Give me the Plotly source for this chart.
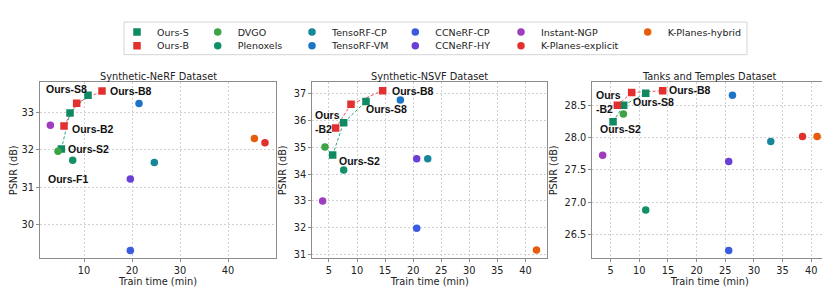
import plotly.graph_objects as go

W, H = 830, 290

# ---------------- data ----------------
methods = ["Ours-S", "Ours-B", "DVGO", "Plenoxels", "TensoRF-CP", "TensoRF-VM",
           "CCNeRF-CP", "CCNeRF-HY", "Instant-NGP", "K-Planes-explicit", "K-Planes-hybrid"]
colors = ["#0e8a62", "#e3302f", "#3ca346", "#11906a", "#16879a", "#1c74c6",
          "#3b5ce0", "#6a3fd6", "#9e3dbd", "#e2302f", "#e85d0c"]

# Synthetic-NeRF
nerf_ours_s_t = [5.28, 7.08, 10.83]
nerf_ours_s_p = [32.02, 32.99, 33.46]
nerf_ours_b_t = [5.83, 8.47, 13.75]
nerf_ours_b_p = [32.64, 33.25, 33.58]
nerf_base = {
    "DVGO": (4.58, 31.96), "Plenoxels": (7.64, 31.72), "TensoRF-CP": (24.65, 31.66),
    "TensoRF-VM": (21.46, 33.24), "CCNeRF-CP": (19.65, 29.30), "CCNeRF-HY": (19.65, 31.22),
    "Instant-NGP": (2.99, 32.66), "K-Planes-explicit": (47.7, 32.19), "K-Planes-hybrid": (45.5, 32.30),
}
# Synthetic-NSVF
nsvf_ours_s_t = [5.66, 7.62, 11.6]
nsvf_ours_s_p = [34.71, 35.91, 36.70]
nsvf_ours_b_t = [6.19, 8.92, 14.57]
nsvf_ours_b_p = [35.71, 36.59, 37.10]
nsvf_base = {
    "DVGO": (4.29, 35.01), "Plenoxels": (7.62, 34.15), "TensoRF-CP": (22.6, 34.57),
    "TensoRF-VM": (17.72, 36.75), "CCNeRF-CP": (20.63, 31.99), "CCNeRF-HY": (20.63, 34.57),
    "Instant-NGP": (3.87, 33.0), "K-Planes-hybrid": (41.98, 31.18),
}
# Tanks and Temples
tt_ours_s_t = [5.42, 7.28, 11.12]
tt_ours_s_p = [28.25, 28.505, 28.69]
tt_ours_b_t = [6.17, 8.67, 14.08]
tt_ours_b_p = [28.505, 28.70, 28.73]
tt_base = {
    "DVGO": (7.22, 28.37), "Plenoxels": (11.12, 26.88), "TensoRF-CP": (32.94, 27.94),
    "TensoRF-VM": (26.25, 28.66), "CCNeRF-CP": (25.6, 26.25), "CCNeRF-HY": (25.6, 27.63),
    "Instant-NGP": (3.61, 27.73), "K-Planes-explicit": (38.47, 28.02), "K-Planes-hybrid": (41.03, 28.02),
}

titles = ["Synthetic-NeRF Dataset", "Synthetic-NSVF Dataset", "Tanks and Temples Dataset"]

# labels: (text, x, y)
labels = [
    [("Ours-S8", 1.94, 33.63), ("Ours-B8", 15.2, 33.59), ("Ours-B2", 7.35, 32.56),
     ("Ours-S2", 6.52, 32.01), ("Ours-F1", 2.29, 31.22)],
    [("Ours-B8", 16.0, 37.10), ("Ours-S8", 11.48, 36.41), ("Ours<br>-B2", 2.33, 35.94),
     ("Ours-S2", 6.6, 34.48)],
    [("Ours-B8", 15.01, 28.74), ("Ours-S8", 8.78, 28.55), ("Ours<br>-B2", 2.21, 28.55),
     ("Ours-S2", 2.90, 28.14)],
]

xranges = [[0.83, 50.0], [2.03, 43.9], [1.8, 42.8]]
yranges = [[29.09, 33.81], [30.87, 37.41], [26.13, 28.86]]
xticks = [[10, 20, 30, 40], [5, 10, 15, 20, 25, 30, 35, 40], [5, 10, 15, 20, 25, 30, 35, 40]]
yticks = [[30, 31, 32, 33], [31, 32, 33, 34, 35, 36, 37], [26.5, 27.0, 27.5, 28.0, 28.5]]

# ---------------- layout geometry (pixels) ----------------
panel_px = [(32, 268), (304.3, 539.3), (584.3, 819.3)]
ytop_px, ybot_px = 74.3, 250.3
legend_marker_x = [130, 210.7, 305, 408.3, 514, 640.7]
legend_rows = [24, 37.7]

FONT = "DejaVu Sans"
fig = go.Figure()

cmap = dict(zip(methods, colors))
datasets = [
    (nerf_ours_s_t, nerf_ours_s_p, nerf_ours_b_t, nerf_ours_b_p, nerf_base),
    (nsvf_ours_s_t, nsvf_ours_s_p, nsvf_ours_b_t, nsvf_ours_b_p, nsvf_base),
    (tt_ours_s_t, tt_ours_s_p, tt_ours_b_t, tt_ours_b_p, tt_base),
]

# legend assignment: column-major 2 rows
legend_ids = {}
for i, m in enumerate(methods):
    col, row = divmod(i, 2)
    legend_ids[m] = ("legend" if i == 0 else f"legend{i+1}", col, row)

for k, (st, sp, bt, bp, base) in enumerate(datasets):
    xa = "x" if k == 0 else f"x{k+1}"
    ya = "y" if k == 0 else f"y{k+1}"
    first = (k == 0)
    # dashed lines
    for t, p, c in [(st, sp, "#2aa57d"), (bt, bp, "#e8585a")]:
        fig.add_trace(go.Scatter(x=t, y=p, mode="lines", xaxis=xa, yaxis=ya,
                                 line=dict(color=c, width=1, dash="3px,2px"),
                                 showlegend=False, hoverinfo="skip"))
    for name, t, p in [("Ours-S", st, sp), ("Ours-B", bt, bp)]:
        fig.add_trace(go.Scatter(x=t, y=p, mode="markers", xaxis=xa, yaxis=ya, name=name,
                                 marker=dict(symbol="square", size=7.5, color=cmap[name], line=dict(width=0)),
                                 showlegend=first, legend=legend_ids[name][0]))
    for name in methods[2:]:
        if name in base:
            t, p = base[name]
            fig.add_trace(go.Scatter(x=[t], y=[p], mode="markers", xaxis=xa, yaxis=ya, name=name,
                                     marker=dict(symbol="circle", size=7.5, color=cmap[name], line=dict(width=0)),
                                     showlegend=first, legend=legend_ids[name][0]))

# axes
axis_common = dict(showline=True, mirror=True, linecolor="#8c8c8c", linewidth=1,
                   showgrid=True, gridcolor="#d0d0d0", griddash="2px,2px", gridwidth=1,
                   zeroline=False, ticks="outside", ticklen=3, tickcolor="#8c8c8c",
                   tickfont=dict(family=FONT, size=9.8, color="#222"))
layout = {}
for k in range(3):
    xk = "xaxis" if k == 0 else f"xaxis{k+1}"
    yk = "yaxis" if k == 0 else f"yaxis{k+1}"
    ya = "y" if k == 0 else f"y{k+1}"
    xa = "x" if k == 0 else f"x{k+1}"
    x0, x1 = panel_px[k]
    layout[xk] = dict(axis_common, domain=[x0 / W, x1 / W], range=xranges[k], anchor=ya,
                      tickvals=xticks[k],
                      title=dict(text="Train time (min)", standoff=2,
                                 font=dict(family=FONT, size=9.8, color="#222")))
    layout[yk] = dict(axis_common, domain=[1 - ybot_px / H, 1 - ytop_px / H], range=yranges[k],
                      anchor=xa, tickvals=yticks[k],
                      tickformat=".1f" if k == 2 else "d",
                      title=dict(text="PSNR (dB)", standoff=5,
                                 font=dict(family=FONT, size=9.8, color="#222")))

annotations = []
for k in range(3):
    x0, x1 = panel_px[k]
    annotations.append(dict(text=titles[k], xref="paper", yref="paper",
                            x=(x0 + x1) / 2 / W, y=1 - 68 / H, xanchor="center", yanchor="middle",
                            showarrow=False, font=dict(family=FONT, size=9.8, color="#222")))
    xa = "x" if k == 0 else f"x{k+1}"
    ya = "y" if k == 0 else f"y{k+1}"
    for text, tx, ty in labels[k]:
        annotations.append(dict(text=f"<b>{text}</b>", xref=xa, yref=ya, x=tx, y=ty,
                                xanchor="left", yanchor="middle", align="left", showarrow=False,
                                borderpad=0,
                                font=dict(family="Liberation Sans", size=10.5, color="#111")))

# legends
for m in methods:
    lid, col, row = legend_ids[m]
    layout[lid] = dict(x=(legend_marker_x[col] - 21) / W, y=1 - legend_rows[row] / H,
                       xanchor="left", yanchor="middle", orientation="v",
                       bgcolor="rgba(0,0,0,0)", borderwidth=0,
                       font=dict(family=FONT, size=9.5, color="#222"))

shapes = [dict(type="rect", xref="paper", yref="paper",
               x0=116 / W, x1=739 / W, y0=1 - 46.7 / H, y1=1 - 14 / H,
               line=dict(color="#d4d4d4", width=1), fillcolor="rgba(0,0,0,0)")]

fig.update_layout(width=W, height=H, margin=dict(l=0, r=0, t=0, b=0, autoexpand=False),
                  paper_bgcolor="white", plot_bgcolor="white",
                  annotations=annotations, shapes=shapes, **layout)

fig.write_html("out.html")
